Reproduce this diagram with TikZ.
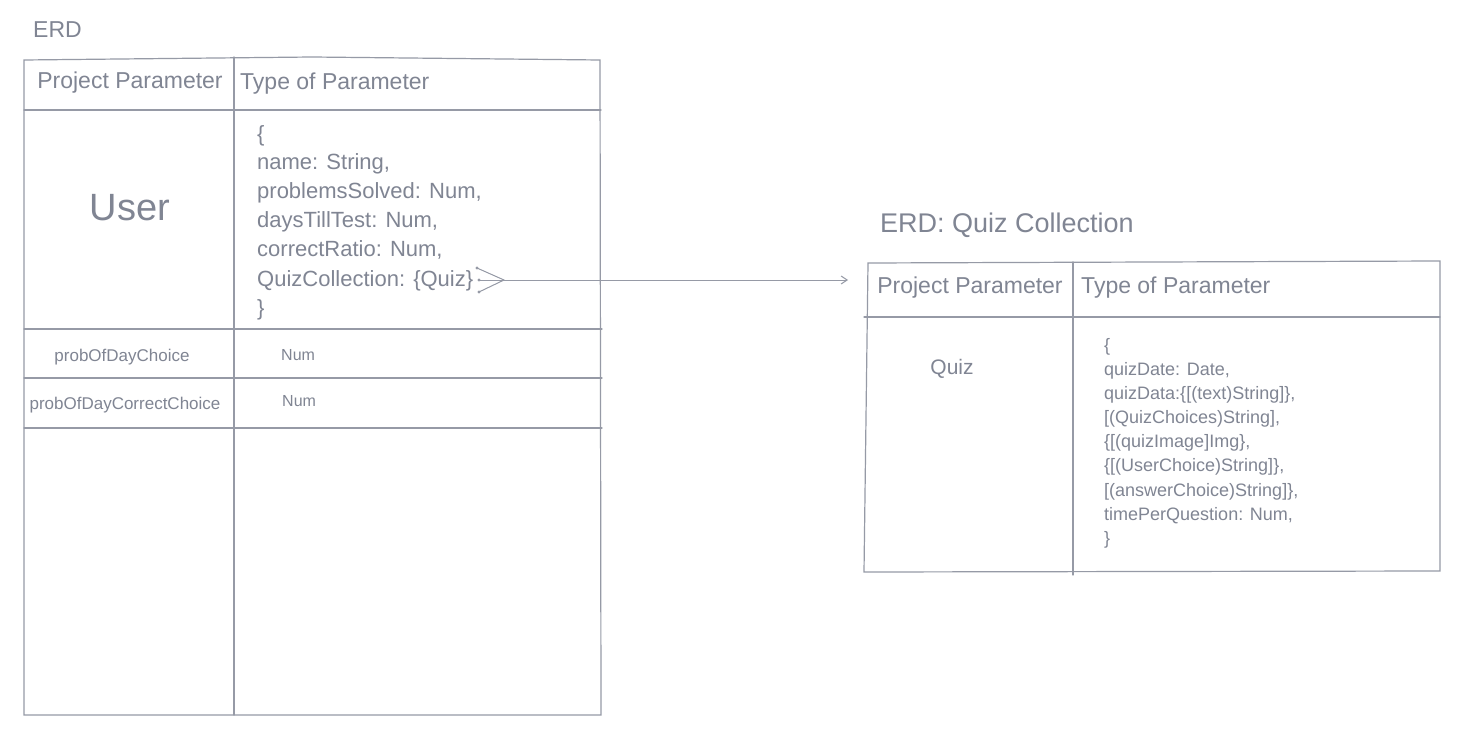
\documentclass[tikz,border=0pt]{standalone}
\usepackage{fontspec}
\setmainfont{Liberation Sans}
\usetikzlibrary{arrows.meta}
\definecolor{txtc}{RGB}{128,133,147}
\definecolor{linec}{RGB}{150,154,166}
\tikzset{
  tline/.style={draw=linec, line width=1.2pt, line cap=round},
  hdr/.style={text=txtc, font=\fontsize{23}{27}\selectfont, inner sep=0pt},
  body/.style={text=txtc, font=\fontsize{22}{26}\selectfont, inner sep=0pt, anchor=base west},
  rbody/.style={text=txtc, font=\fontsize{18}{22}\selectfont, inner sep=0pt, anchor=base west},
  small/.style={text=txtc, font=\fontsize{17}{20}\selectfont, inner sep=0pt},
  numtxt/.style={text=txtc, font=\fontsize{16}{20}\selectfont, inner sep=0pt, anchor=west},
  ttl/.style={text=txtc, inner sep=0pt, anchor=west},
  conn/.style={draw=linec, line width=1pt, line cap=round},
}
\begin{document}
\begin{tikzpicture}[x=1pt,y=-1pt]
\useasboundingbox[fill=white] (0,0) rectangle (1470,746);

% ---------- left table ----------
\draw[tline] (24,60) -- (312,57) -- (600,60) -- (601,715) -- (24,715) -- cycle;
\draw[tline] (234,57) -- (234,715);
\draw[tline] (24,110) -- (601,110);
\draw[tline] (24,329) -- (602,329);
\draw[tline] (24,378) -- (602,378);
\draw[tline] (24,428) -- (602,428);

\node[ttl, font=\fontsize{23}{27}\selectfont] (erd) at (33,30) {ERD};
\node[hdr] (lh1) at (130,83) {Project Parameter};
\node[hdr, anchor=west] (lh2) at (240,84) {Type of Parameter};
\node[text=txtc, font=\fontsize{38}{44}\selectfont, inner sep=0pt] (user) at (130,208) {User};

\node[body] (l0) at (257,142) {\{};
\node[body] (l1) at (257,170) {name: String,};
\node[body] (l2) at (257,199) {problemsSolved: Num,};
\node[body] (l3) at (257,228) {daysTillTest: Num,};
\node[body] (l4) at (257,257) {correctRatio: Num,};
\node[body] (l5) at (257,286) {QuizCollection: \{Quiz\}};
\node[body] (l6) at (257,315) {\}};

\node[small] (p1) at (122,357) {probOfDayChoice};
\node[numtxt] (n1) at (281,355) {Num};
\node[small] (p2) at (125,405) {probOfDayCorrectChoice};
\node[numtxt] (n2) at (282,401) {Num};

% ---------- right table ----------
\node[ttl, font=\fontsize{27}{31}\selectfont] (erd2) at (880,225) {ERD: Quiz Collection};
\draw[tline] (868,263) -- (1440,261) -- (1440,571) -- (864,572) -- cycle;
\draw[tline] (864,317) -- (1440,317);
\draw[tline] (1073,262) -- (1073,575);
\node[hdr] (rh1) at (970,288) {Project Parameter};
\node[hdr, anchor=west] (rh2) at (1081,288) {Type of Parameter};
\node[text=txtc, font=\fontsize{21}{25}\selectfont, inner sep=0pt] (quiz) at (952,369) {Quiz};

\node[rbody] (r0) at (1104,351) {\{};
\node[rbody] (r1) at (1104,375) {quizDate: Date,};
\node[rbody] (r2) at (1104,399) {quizData:\{[(text)String]\},};
\node[rbody] (r3) at (1104,423) {[(QuizChoices)String],};
\node[rbody] (r4) at (1104,447) {\{[(quizImage]Img\},};
\node[rbody] (r5) at (1104,471) {\{[(UserChoice)String]\},};
\node[rbody] (r6) at (1104,496) {[(answerChoice)String]\},};
\node[rbody] (r7) at (1104,520) {timePerQuestion: Num,};
\node[rbody] (r8) at (1104,544) {\}};

% ---------- connector with crow's foot ----------
\coordinate (cfa) at (477,268);
\coordinate (cfb) at (479,280);
\coordinate (cfc) at (479,292);
\coordinate (apex) at (504,280);
\coordinate (tip) at (848,280);
\draw[conn] (cfa) -- (apex);
\draw[conn] (cfb) -- (apex);
\draw[conn] (cfc) -- (apex);
\fill[linec] (cfa) circle (1.6);
\fill[linec] (cfb) circle (1.6);
\fill[linec] (cfc) circle (1.6);
\draw[conn, -{Straight Barb[length=6pt,width=8pt]}] (apex) -- (tip);
\end{tikzpicture}
\end{document}
